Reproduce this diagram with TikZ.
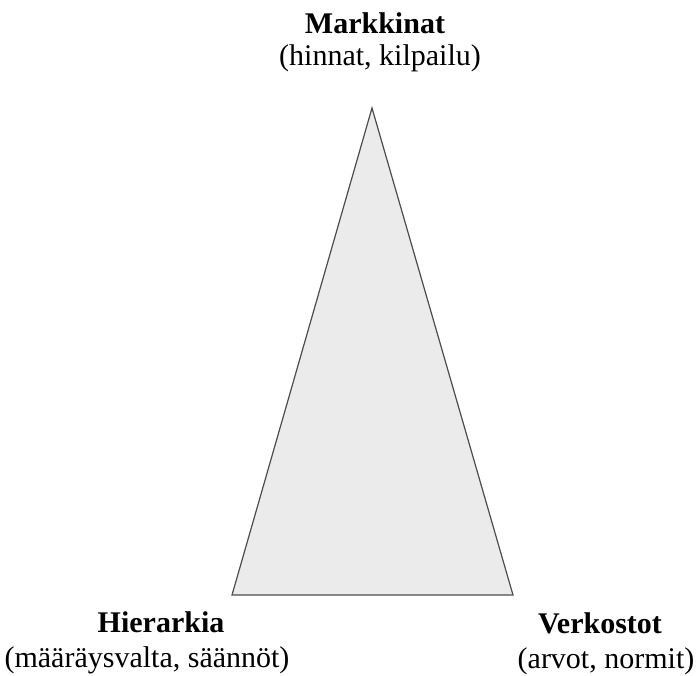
\documentclass[tikz,border=0pt]{standalone}
\usepackage{fontspec}
\setmainfont{Liberation Serif}
\usetikzlibrary{positioning}

\begin{document}
\begin{tikzpicture}[x=1pt,y=-1pt,
  title/.style={font=\fontsize{30}{30}\selectfont\bfseries,anchor=base,inner sep=0pt},
  sub/.style={font=\fontsize{30}{30}\selectfont,anchor=base,inner sep=0pt},
  corner/.style={inner sep=0pt,minimum size=0pt}]
  \useasboundingbox (0,0) rectangle (699,675);
  % triangle corners
  \coordinate (top) at (372,108);
  \coordinate (left) at (232,595);
  \coordinate (right) at (513,595);
  \draw[draw=black!70,fill=black!8,line width=1.2pt,line join=miter] (top) -- (right) -- (left) -- cycle;
  % labels
  \node[title] (mark) at (375,33) {Markkinat};
  \node[sub] (markSub) at (380,65) {(hinnat, kilpailu)};
  \node[title] (hier) at (161,632) {Hierarkia};
  \node[sub] (hierSub) at (147,667) {(määräysvalta, säännöt)};
  \node[title] (verk) at (600,633) {Verkostot};
  \node[sub] (verkSub) at (606,668) {(arvot, normit)};
\end{tikzpicture}
\end{document}
